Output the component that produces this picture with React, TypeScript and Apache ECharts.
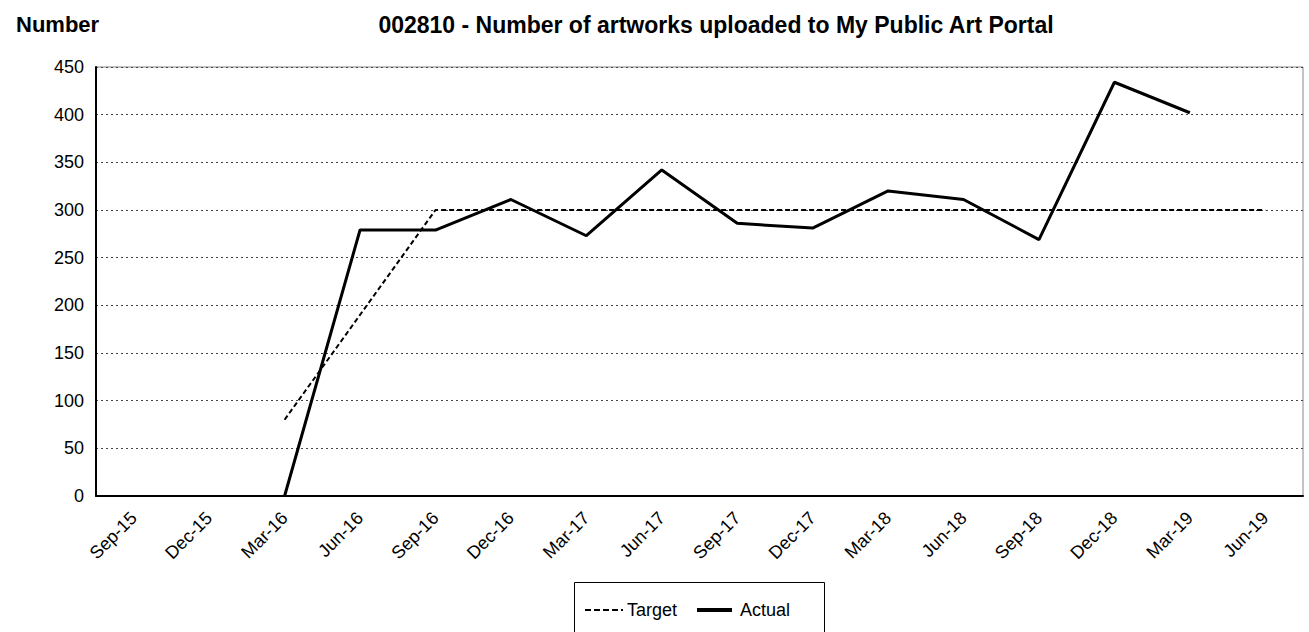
import React, { useEffect, useRef } from "react";
import * as echarts from "echarts";

const categories = ["Sep-15", "Dec-15", "Mar-16", "Jun-16", "Sep-16", "Dec-16", "Mar-17", "Jun-17", "Sep-17", "Dec-17", "Mar-18", "Jun-18", "Sep-18", "Dec-18", "Mar-19", "Jun-19"];
const targetValues: (number | null)[] = [null, null, 80, 190, 300, 300, 300, 300, 300, 300, 300, 300, 300, 300, 300, 300];
const actualValues: (number | null)[] = [null, null, 0, 279, 279, 311, 273, 342, 286, 281, 320, 311, 269, 434, 402, null];
const yTicks = { min: 0, max: 450, interval: 50 };
const seriesNames = ["Target", "Actual"];

const FONT = "Arial, 'Liberation Sans', sans-serif";

export default function App() {
  const ref = useRef<HTMLDivElement>(null);
  useEffect(() => {
    if (!ref.current) return;
    const chart = echarts.init(ref.current, undefined, { renderer: "svg" });
    chart.setOption({
      animation: false,
      backgroundColor: "#ffffff",
      textStyle: { fontFamily: FONT },
      title: [
        { text: "Number", left: 11, top: 8, textStyle: { fontFamily: FONT, fontSize: 22, fontWeight: "bold", color: "#000" } },
        { text: "002810 - Number of artworks uploaded to My Public Art Portal", left: 711, top: 8, textAlign: "center", textStyle: { fontFamily: FONT, fontSize: 23, fontWeight: "bold", color: "#000" } },
      ],
      grid: { left: 96, right: 6, top: 67, bottom: 136, show: true, borderColor: "#888", borderWidth: 1 },
      xAxis: {
        type: "category",
        data: categories,
        boundaryGap: true,
        axisLine: { lineStyle: { color: "#000", width: 2 } },
        axisTick: { show: false },
        axisLabel: { rotate: 45, fontSize: 18, color: "#000", fontFamily: FONT, margin: 19, interval: 0 },
        splitLine: { show: false },
      },
      yAxis: {
        type: "value",
        min: yTicks.min,
        max: yTicks.max,
        interval: yTicks.interval,
        axisLine: { show: true, lineStyle: { color: "#000", width: 2 } },
        axisTick: { show: false },
        axisLabel: { fontSize: 18, color: "#000", fontFamily: FONT, margin: 12 },
        splitLine: { show: true, lineStyle: { color: "#444", width: 1, type: [2, 3] } },
      },
      graphic: [
        { type: "rect", shape: { x: 574.5, y: 582.5, width: 250, height: 60 }, style: { fill: "none", stroke: "#000", lineWidth: 1 } },
        { type: "line", shape: { x1: 585, y1: 610, x2: 623, y2: 610 }, style: { stroke: "#000", lineWidth: 2, lineDash: [6, 3] } },
        { type: "text", x: 627, y: 610, style: { text: seriesNames[0], font: "18px Arial, 'Liberation Sans', sans-serif", fill: "#000", textVerticalAlign: "middle" } },
        { type: "line", shape: { x1: 697, y1: 610, x2: 732, y2: 610 }, style: { stroke: "#000", lineWidth: 4 } },
        { type: "text", x: 740, y: 610, style: { text: seriesNames[1], font: "18px Arial, 'Liberation Sans', sans-serif", fill: "#000", textVerticalAlign: "middle" } },
      ],
      series: [
        {
          name: seriesNames[0],
          type: "line",
          data: targetValues,
          symbol: "none",
          color: "#000",
          lineStyle: { color: "#000", width: 2, type: [5, 3] },
          connectNulls: false,
        },
        {
          name: seriesNames[1],
          type: "line",
          data: actualValues,
          symbol: "none",
          color: "#000",
          lineStyle: { color: "#000", width: 3 },
          connectNulls: false,
        },
      ],
    });
    return () => chart.dispose();
  }, []);
  return <div ref={ref} style={{ width: 1309, height: 632, position: "absolute", left: 0, top: 0 }} />;
}
